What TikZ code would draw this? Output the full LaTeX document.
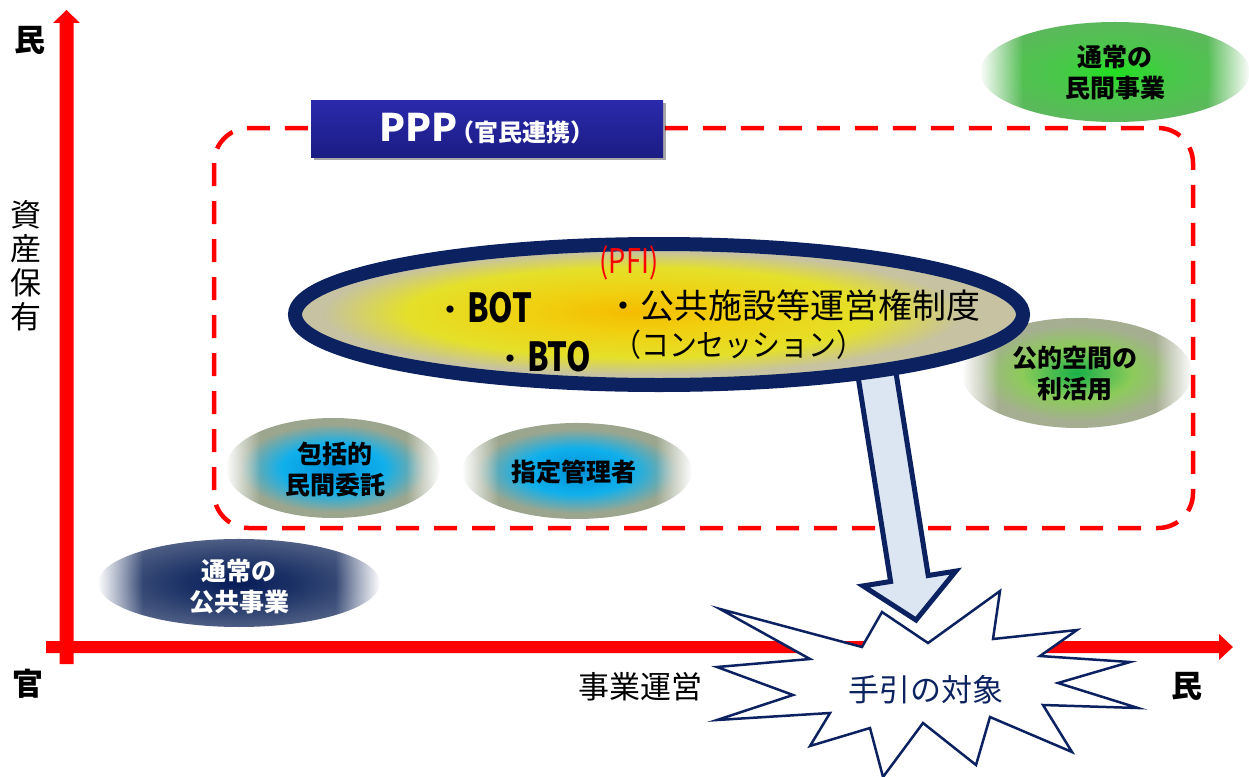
\documentclass[tikz,border=0pt]{standalone}
\usepackage{fontspec}
\setmainfont{Noto Sans CJK JP}
\usepackage{graphicx}
\usetikzlibrary{shadows,fadings}

\definecolor{axred}{HTML}{FF0000}
\definecolor{navyB}{HTML}{0B2160}
\definecolor{arrowFill}{HTML}{DCE6F2}
\definecolor{pppT}{HTML}{2A2AAC}
\definecolor{pppB}{HTML}{1C1C84}
\definecolor{pfiC}{HTML}{F5BC00}
\definecolor{pfiC2}{HTML}{F0D010}
\definecolor{pfiY}{HTML}{E4E02A}
\definecolor{pfiK}{HTML}{C6C2A2}
\definecolor{blueC}{HTML}{0090D8}
\definecolor{blueM}{HTML}{10B0EC}
\definecolor{blueO}{HTML}{9CA68E}
\definecolor{navC}{HTML}{081C58}
\definecolor{navM}{HTML}{1C3266}
\definecolor{navO}{HTML}{4E5E84}
\definecolor{g1C}{HTML}{20E020}
\definecolor{g1M}{HTML}{48C848}
\definecolor{g1O}{HTML}{5CB85C}
\definecolor{g2C}{HTML}{18B048}
\definecolor{g2M}{HTML}{8CCB5A}
\definecolor{g2O}{HTML}{A6AE92}
\definecolor{starTxt}{HTML}{0D2360}

\pgfdeclareradialshading{pfish}{\pgfpoint{-2bp}{1bp}}{color(0bp)=(pfiC); color(7bp)=(pfiC2); color(16bp)=(pfiY); color(22bp)=(pfiK); color(25bp)=(pfiK); color(50bp)=(pfiK)}
\pgfdeclareradialshading{bluesh}{\pgfpoint{0bp}{0bp}}{color(0bp)=(blueC); color(12bp)=(blueM); color(22bp)=(blueO); color(25bp)=(blueO); color(50bp)=(blueO)}
\pgfdeclareradialshading{navsh}{\pgfpoint{0bp}{0bp}}{color(0bp)=(navC); color(10bp)=(navM); color(25bp)=(navO); color(50bp)=(navO)}
\pgfdeclareradialshading{gonesh}{\pgfpoint{0bp}{0bp}}{color(0bp)=(g1C); color(10bp)=(g1M); color(25bp)=(g1O); color(50bp)=(g1O)}
\pgfdeclareradialshading{gtwosh}{\pgfpoint{0bp}{0bp}}{color(0bp)=(g2C); color(12bp)=(g2M); color(22bp)=(g2O); color(25bp)=(g2O); color(50bp)=(g2O)}

\pgfdeclarehorizontalshading{sidefadesh}{100bp}{color(0bp)=(black); color(25bp)=(black); color(33bp)=(white); color(67bp)=(white); color(75bp)=(black); color(100bp)=(black)}
\pgfdeclarefading{sidefade}{\pgfuseshading{sidefadesh}}

\tikzset{
  axisfill/.style={fill=axred, draw=none},
  pppframe/.style={draw=axred, line width=4.5pt, dash pattern=on 23pt off 15pt, rounded corners=35pt},
  softell/.style={path fading=sidefade},
  lbl/.style={font=\bfseries\fontsize{25}{31}\selectfont, align=center, inner sep=0pt},
  axlbl/.style={font=\fontsize{31}{34}\selectfont, align=center, inner sep=0pt},
  axlblb/.style={font=\bfseries\fontsize{31}{34}\selectfont, inner sep=0pt},
  pppbox/.style={rectangle, minimum width=352pt, minimum height=57pt, inner sep=0pt,
    top color=pppT, bottom color=pppB, text=white,
    drop shadow={shadow xshift=3pt, shadow yshift=-3pt, fill=black, opacity=0.35}},
  pfitxt/.style={inner sep=0pt, anchor=base west},
  starsty/.style={draw=navyB, fill=white, line width=2.5pt, line join=miter},
  startext/.style={font=\fontsize{31}{34}\selectfont, text=starTxt, inner sep=0pt},
  blockarrow/.style={draw=navyB, fill=arrowFill, line width=5pt, line join=miter},
  pfiell/.style={draw=navyB, line width=14pt, shading=pfish}
}

\begin{document}
\begin{tikzpicture}[x=1pt,y=-1pt]
\useasboundingbox (0,0) rectangle (1249,776);

% axes
\fill[axisfill] (59.5,664) -- (59.5,23) -- (53,23) -- (66.5,10) -- (80,23) -- (73.5,23) -- (73.5,664) -- cycle;
\fill[axisfill] (46,641) -- (1219,641) -- (1219,634) -- (1233,647) -- (1219,660) -- (1219,653) -- (46,653) -- cycle;

\node[axlblb] (yTop) at (30,40) {民};
\node[axlbl] (yLab) at (26,266) {資\\産\\保\\有};
\node[axlblb] (orig) at (28,684) {官};
\node[axlbl] (xLab) at (640,687) {事業運営};
\node[axlblb] (xEnd) at (1187,686) {民};

% PPP frame
\draw[pppframe] (214,128) rectangle (1193,528);

% soft ellipses
\shade[shading=gonesh, softell] (1115,72) ellipse [x radius=135, y radius=50];
\shade[shading=gtwosh, softell] (1077,373) ellipse [x radius=115, y radius=55];
\shade[shading=bluesh, softell] (333,468) ellipse [x radius=107, y radius=50];
\shade[shading=bluesh, softell] (577,471) ellipse [x radius=115, y radius=48];
\shade[shading=navsh, softell] (239,583) ellipse [x radius=141, y radius=44];

\node[lbl] (minkan) at (1115,73) {通常の\\民間事業};
\node[lbl] (kouteki) at (1075,374) {公的空間の\\利活用};
\node[lbl] (houkatsu) at (335,469) {包括的\\民間委託};
\node[lbl] (shitei) at (574,472) {指定管理者};
\node[lbl, text=white] (koukyou) at (239,587) {通常の\\公共事業};

% PPP title box
\node[pppbox] (ppp) at (487,128.5) {{\bfseries\fontsize{38}{40}\selectfont PPP}\hspace{-7pt}{\bfseries\fontsize{24}{26}\selectfont （官民連携）}};

% starburst
\draw[starsty] (720,609) -- (862,647) -- (882,612) -- (928,643) -- (1000,591) -- (993,639)
  -- (1077,630) -- (1040,656) -- (1130,662) -- (1058,683) -- (1138,708) -- (1043,705)
  -- (1072,752) -- (990,717) -- (976,765) -- (923,723) -- (883,777) -- (870,728)
  -- (810,746) -- (830,713) -- (717,720) -- (793,695) -- (717,667) -- (810,659) -- cycle;
\node[startext] (target) at (926,690) {手引の対象};

% block arrow
\draw[blockarrow] (856.2,365) -- (890.6,581.5) -- (863,585.9) -- (916,620)
  -- (955.8,571.1) -- (928.2,575.5) -- (893.8,359) -- cycle;

% PFI ellipse
\shadedraw[pfiell] (659,314.5) ellipse [x radius=364, y radius=70.5];

\node[inner sep=0pt, text=axred, font=\fontsize{34}{36}\selectfont] (pfi) at (629,263) {\scalebox{0.8}[1]{(PFI)}};
\node[pfitxt] (bot) at (433,322) {{\fontsize{34}{34}\selectfont ・}{\bfseries\fontsize{40}{40}\selectfont\scalebox{0.78}[1]{BOT}}};
\node[pfitxt] (bto) at (493,371) {{\fontsize{34}{34}\selectfont ・}{\bfseries\fontsize{40}{40}\selectfont\scalebox{0.78}[1]{BTO}}};
\node[pfitxt, font=\fontsize{34}{34}\selectfont] (conc) at (606,318) {・公共施設等運営権制度};
\node[pfitxt, font=\fontsize{31}{31}\selectfont] (concb) at (613,356) {\scalebox{0.9}[1]{（コンセッション）}};
\end{tikzpicture}
\end{document}
